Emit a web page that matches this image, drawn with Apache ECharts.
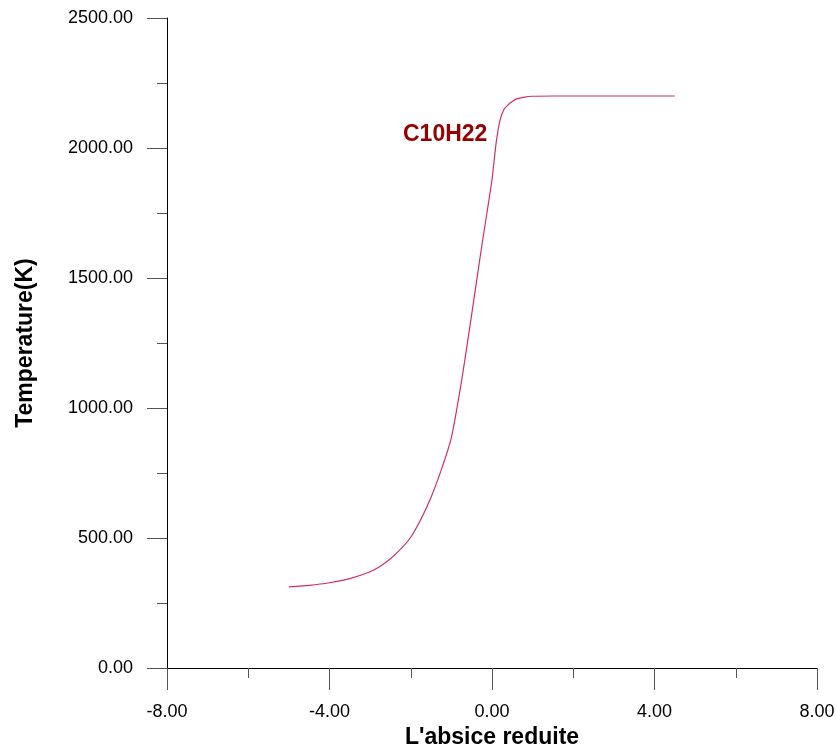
<!DOCTYPE html>
<html>
<head>
<meta charset="utf-8">
<script src="https://cdn.jsdelivr.net/npm/echarts@6/dist/echarts.min.js"></script>
<style>
  html, body { margin: 0; padding: 0; background: #fff; }
  #main { width: 837px; height: 751px; }
</style>
</head>
<body>
<div id="main"></div>
<script>
// abscisse reduite / temperature (K)
var xVals = [-5, -4.5, -4, -3.5, -3, -2.75, -2.5, -2.25, -2, -1.75, -1.5, -1.25, -1, -0.75, -0.5, -0.25, 0, 0.1, 0.2, 0.3, 0.4, 0.5, 0.6, 0.8, 1, 1.5, 2, 3, 4.5];
var tVals = [312, 318, 328, 344, 370, 391, 420, 457, 503, 572, 657, 761, 886, 1103, 1360, 1625, 1877, 2018, 2108, 2150, 2167, 2179, 2189, 2196, 2199, 2200, 2200, 2200, 2200];
var seriesName = 'C10H22';

var myChart = echarts.init(document.getElementById('main'));

var pts = xVals.map(function (x, i) { return [x, tVals[i]]; });

var option = {
    backgroundColor: '#fff',
    animation: false,
    grid: {
        left: 167,
        right: 20,
        top: 18,
        bottom: 83,
        outerBoundsMode: 'none'
    },
    xAxis: {
        type: 'value',
        min: -8,
        max: 8,
        interval: 4,
        name: "L'absice reduite",
        nameLocation: 'middle',
        nameGap: 56,
        nameTextStyle: {
            color: '#000',
            fontSize: 23,
            fontWeight: 'bold',
            fontFamily: 'Liberation Sans'
        },
        axisLine: { onZero: false, lineStyle: { color: '#000', width: 1 } },
        axisTick: { show: true, length: 22, lineStyle: { color: '#555' } },
        minorTick: { show: true, splitNumber: 2, length: 10, lineStyle: { color: '#555' } },
        splitLine: { show: false },
        axisLabel: {
            color: '#000',
            fontSize: 18,
            fontFamily: 'Liberation Sans',
            margin: 35,
            formatter: function (v) { return v.toFixed(2); }
        }
    },
    yAxis: {
        type: 'value',
        min: 0,
        max: 2500,
        interval: 500,
        name: 'Temperature(K)',
        nameLocation: 'middle',
        nameGap: 130,
        nameTextStyle: {
            color: '#000',
            fontSize: 23,
            fontWeight: 'bold',
            fontFamily: 'Liberation Sans'
        },
        axisLine: { show: true, onZero: false, lineStyle: { color: '#000', width: 1 } },
        axisTick: { show: true, length: 20, lineStyle: { color: '#555' } },
        minorTick: { show: true, splitNumber: 2, length: 10, lineStyle: { color: '#555' } },
        splitLine: { show: false },
        axisLabel: {
            color: '#000',
            fontSize: 18,
            fontFamily: 'Liberation Sans',
            margin: 34,
            formatter: function (v) { return v.toFixed(2); }
        }
    },
    graphic: [{
        type: 'text',
        left: 403,
        top: 123,
        style: {
            text: seriesName,
            fill: '#990000',
            font: 'bold 23px "Liberation Sans"'
        }
    }],
    series: [{
        name: seriesName,
        type: 'line',
        smooth: 0.2,
        showSymbol: false,
        lineStyle: { color: '#d22f62', width: 1.2 },
        data: pts
    }]
};

myChart.setOption(option);
</script>
</body>
</html>
